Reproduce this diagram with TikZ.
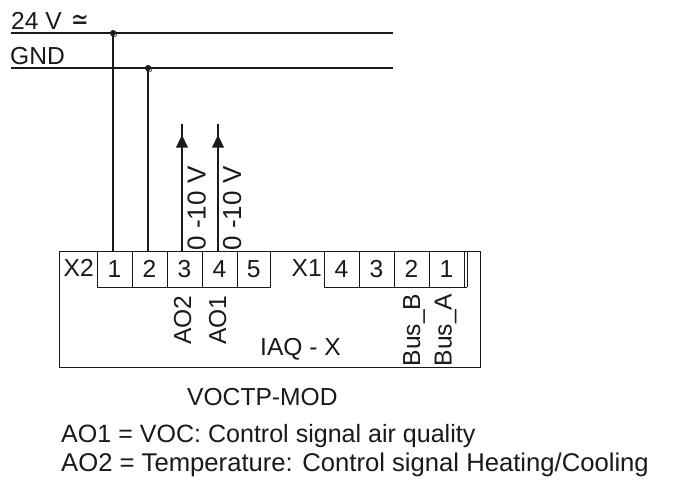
\documentclass[tikz,border=0pt]{standalone}
\usepackage{fontspec}
\setmainfont{Liberation Sans}
\newfontfamily\symfont{DejaVu Sans}
\usetikzlibrary{arrows.meta}
\definecolor{ink}{HTML}{1A1A1A}
\tikzset{
  x=1pt,y=-1pt,
  txt/.style={inner sep=0pt,text=ink,font=\fontsize{24.6}{28}\selectfont},
  cell/.style={draw=ink,line width=0.9pt,minimum width=35pt,minimum height=35.5pt,inner sep=0pt,anchor=north west,text=ink,font=\fontsize{24.6}{28}\selectfont},
  wire/.style={draw=ink,line width=1.9pt},
  thinwire/.style={draw=ink,line width=0.9pt},
  dot/.style={circle,fill=ink,inner sep=0pt,minimum size=6pt},
  ring/.style={circle,draw=ink,line width=0.5pt,inner sep=0pt,minimum size=6pt}
}
\begin{document}
\begin{tikzpicture}
\useasboundingbox[fill=white] (0,0) rectangle (678,483);
% housing
\coordinate (bTL) at (59.5,251); \coordinate (bBR) at (480,367);
\draw[thinwire] (bTL) rectangle (bBR);
% terminals X2
\node[cell] (a1) at (96.5,251) {1};
\node[cell] (a2) at (131.5,251) {2};
\node[cell] (a3) at (166.5,251) {3};
\node[cell] (a4) at (201.5,251) {4};
\node[cell,minimum width=33.5pt] (a5) at (236.5,251) {5};
% terminals X1
\node[cell] (b4) at (323.5,251) {4};
\node[cell] (b3) at (358.5,251) {3};
\node[cell] (b2) at (393.5,251) {2};
\node[cell] (b1) at (428.5,251) {1};
\draw[thinwire] (b1.north east) ++(3,0) coordinate (e1) -- (e1 |- b1.south);
\draw[thinwire] (b1.south east) -- (e1 |- b1.south);
% bus rails
\coordinate (p1) at (11,33); \coordinate (p1e) at (393,33);
\coordinate (p2) at (11,68); \coordinate (p2e) at (393,68);
\draw[wire] (p1) -- (p1e);
\draw[wire] (p2) -- (p2e);
\node[dot] (j1) at (113,33) {};
\node[dot] (j2) at (148,68) {};
\node[ring] at (114,34) {};
\node[ring] at (149,69) {};
\draw[wire] (j1.center) -- (j1 |- a1.north);
\draw[wire] (j2.center) -- (j2 |- a2.north);
% outputs
\coordinate (o3) at (182,124); \coordinate (o4) at (218,124);
\coordinate (h3) at (182,135); \coordinate (h4) at (218,135);
\draw[wire] (o3 |- a3.north) -- (o3);
\draw[wire] (o4 |- a4.north) -- (o4);
\fill[ink] (h3) -- ++(6,12.5) -- ++(-12,0) -- cycle;
\fill[ink] (h4) -- ++(6,12.5) -- ++(-12,0) -- cycle;
% labels
\node[txt,anchor=base west] (l24) at (11,29) {24 V};
\node[txt,anchor=base west,font=\symfont\fontsize{21}{24}\selectfont,transform shape,yscale=1.4] (lac) at (71.5,29.5) {≃};
\node[txt,anchor=base west] (lgnd) at (10,64) {GND};
\node[txt,anchor=base,rotate=90,font=\fontsize{26}{28}\selectfont] (v3) at (205.5,208.5) {0 -10 V};
\node[txt,anchor=base,rotate=90,font=\fontsize{26}{28}\selectfont] (v4) at (241,208.5) {0 -10 V};
\node[txt,anchor=base west] (x2) at (63.5,276.5) {X2};
\node[txt,anchor=base west] (x1) at (291.5,276.5) {X1};
\node[txt,anchor=base,rotate=90] (ao2) at (191,320) {AO2};
\node[txt,anchor=base,rotate=90] (ao1) at (226,320) {AO1};
\node[txt,anchor=base west] (iaq) at (260,355) {IAQ - X};
\node[txt,anchor=base,rotate=90] (busb) at (420,330) {Bus\_B};
\node[txt,anchor=base,rotate=90] (busa) at (451.5,330) {Bus\_A};
\node[txt,anchor=base west] (voc) at (187,405.5) {VOCTP-MOD};
\node[txt,anchor=base west,font=\fontsize{25.05}{28}\selectfont] (n1) at (61,442) {AO1 = VOC: Control signal air quality};
\node[txt,anchor=base west,font=\fontsize{25.65}{28}\selectfont] (n2) at (61,471) {AO2 = Temperature: Control signal Heating/Cooling};
\end{tikzpicture}
\end{document}
